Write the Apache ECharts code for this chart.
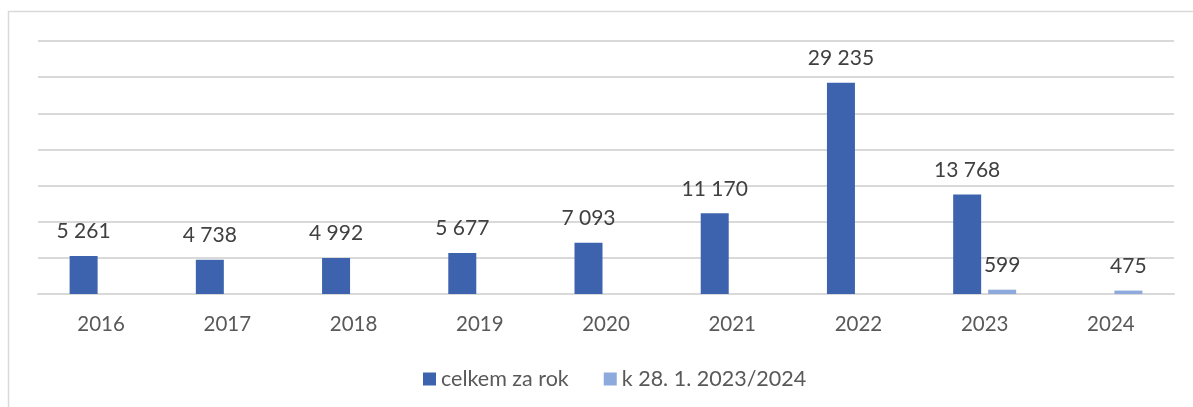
<!DOCTYPE html>
<html>
<head>
<meta charset="utf-8">
<script src="https://cdn.jsdelivr.net/npm/echarts@6/dist/echarts.min.js"></script>
<style>
html,body{margin:0;padding:0;background:#fff;}
#chart{width:1193px;height:407px;}
</style>
</head>
<body>
<div id="chart"></div>
<script>
const categories = ['2016','2017','2018','2019','2020','2021','2022','2023','2024'];
const seriesNames = ['celkem za rok', 'k 28. 1. 2023/2024'];
const totalPerYear = [5261, 4738, 4992, 5677, 7093, 11170, 29235, 13768, null];
const toJan28 = [null, null, null, null, null, null, null, 599, 475];
const yTicks = {min: 0, max: 35000, interval: 5000};

const fmt = v => String(v).replace(/\B(?=(\d{3})+(?!\d))/g, ' ');
const FONT = 'Lato';

const chart = echarts.init(document.getElementById('chart'));
chart.setOption({
  animation: false,
  textStyle: {fontFamily: FONT},
  graphic: [{
    type: 'rect', silent: true,
    shape: {x: 8.5, y: 11.5, width: 1300, height: 600},
    style: {fill: 'none', stroke: '#d9d9d9', lineWidth: 1.5}
  }],
  grid: {left: 38, right: 19, top: 41, bottom: 113},
  legend: {
    left: 418, top: 363,
    itemWidth: 13, itemHeight: 13, itemGap: 35,
    icon: 'rect',
    textStyle: {fontFamily: FONT, fontSize: 21.5, color: '#595959'},
    data: seriesNames
  },
  xAxis: {
    type: 'category', data: categories,
    axisLine: {show: true, lineStyle: {color: '#d9d9d9', width: 2}},
    axisTick: {show: false},
    axisLabel: {fontFamily: FONT, fontSize: 20.5, color: '#595959', margin: 20}
  },
  yAxis: {
    type: 'value', min: yTicks.min, max: yTicks.max, interval: yTicks.interval,
    axisLabel: {show: false}, axisLine: {show: false}, axisTick: {show: false},
    splitLine: {lineStyle: {color: '#d9d9d9', width: 2}}
  },
  series: [
    {
      name: seriesNames[0], type: 'bar', data: totalPerYear,
      barWidth: 28, barGap: '25%',
      itemStyle: {color: '#3D63AE'},
      label: {show: true, position: 'top', distance: 14, fontFamily: FONT, fontSize: 21, color: '#404040',
        formatter: p => fmt(p.value)}
    },
    {
      name: seriesNames[1], type: 'bar', data: toJan28,
      barWidth: 28, barGap: '25%',
      itemStyle: {color: '#8EA9DB'},
      label: {show: true, position: 'top', distance: 14, fontFamily: FONT, fontSize: 21, color: '#404040',
        formatter: p => fmt(p.value)}
    }
  ]
});
</script>
</body>
</html>
